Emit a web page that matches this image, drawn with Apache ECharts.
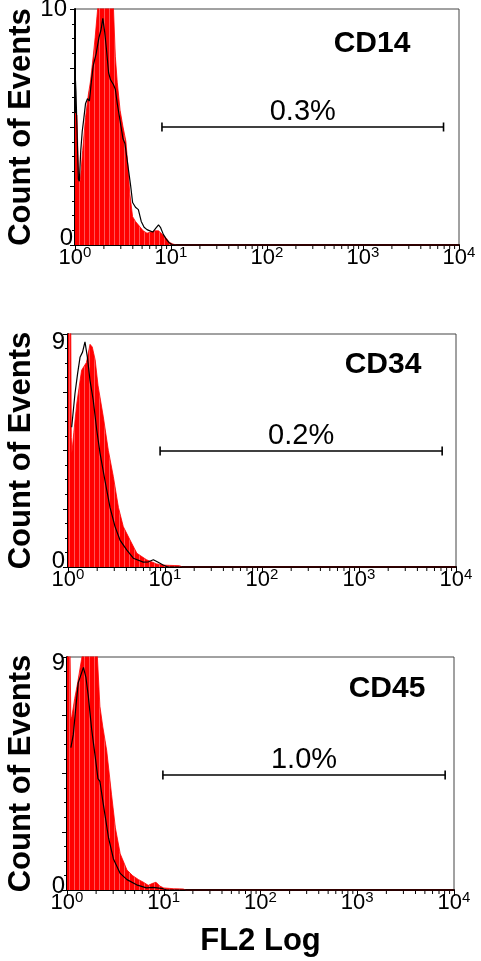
<!DOCTYPE html>
<html><head><meta charset="utf-8">
<script src="https://cdn.jsdelivr.net/npm/echarts@6/dist/echarts.min.js"></script>
<style>html,body{margin:0;padding:0;background:#fff}#c{width:481px;height:961px}</style>
</head><body><div id="c"></div>
<script>
const FONT = '"Liberation Sans", Arial, Helvetica, sans-serif';

// ---- data (x in log10 of FL2 fluorescence, y = count of events) ----
const panelTitles = ['CD14', 'CD34', 'CD45'];
const gatePercents = ['0.3%', '0.2%', '1.0%'];
const yMax = [10, 9, 9];
const xTickExponents = [0, 1, 2, 3, 4];
const minorMultipliers = [2, 3, 4, 5, 6, 7, 8, 9];

// gate marker: [start FL2, end FL2, count level]
const gateCD14 = [8.05, 6900, 5.0];
const gateCD34 = [8.9, 7200, 4.48];
const gateCD45 = [9.8, 8100, 4.44];

// red filled histogram (antibody)  [log10 FL2, count]
const cd14Red = [[0,5.6],[0.02,5.5],[0.03,4.0],[0.04,2.8],[0.055,2.7],[0.08,4.0],[0.11,5.4],[0.14,6.4],[0.16,6.9],[0.19,8.0],[0.21,8.8],[0.24,10.2],[0.28,11.2],[0.33,11.2],[0.38,10.6],[0.40,10.1],[0.42,8.0],[0.44,6.9],[0.47,5.7],[0.50,5.0],[0.53,4.4],[0.55,3.4],[0.57,2.2],[0.60,1.2],[0.63,1.0],[0.67,0.8],[0.71,0.6],[0.75,0.5],[0.79,0.55],[0.83,0.6],[0.87,0.6],[0.91,0.45],[0.95,0.3],[0.98,0.12],[1.02,0.04],[1.06,0],[4,0]];
const cd34Red = [[0,9.6],[0.028,9.6],[0.034,5.0],[0.04,4.4],[0.06,5.2],[0.09,6.3],[0.14,7.6],[0.19,7.9],[0.227,8.6],[0.25,8.5],[0.28,8.0],[0.31,7.0],[0.364,5.8],[0.416,4.5],[0.467,3.5],[0.52,2.3],[0.57,1.56],[0.64,1.04],[0.71,0.53],[0.81,0.28],[0.914,0.12],[1.0,0.07],[1.15,0.05],[1.18,0],[4,0]];
const cd45Red = [[0,9.6],[0.03,9.6],[0.04,6.6],[0.05,6.7],[0.08,7.4],[0.11,8.0],[0.15,8.9],[0.18,9.5],[0.22,10],[0.28,10],[0.31,9.3],[0.34,7.1],[0.37,6.3],[0.41,5.4],[0.46,3.7],[0.50,2.4],[0.55,1.4],[0.62,0.77],[0.68,0.55],[0.74,0.4],[0.79,0.3],[0.84,0.18],[0.88,0.25],[0.92,0.3],[0.96,0.15],[1.0,0.08],[1.1,0.05],[1.2,0.04],[1.23,0],[4,0]];

// black line histogram (isotype control)  [log10 FL2, count]
const cd14Black = [[0,7.4],[0.01,6.5],[0.02,5.0],[0.035,2.8],[0.045,2.7],[0.06,4.0],[0.075,4.8],[0.09,5.3],[0.11,6.0],[0.13,6.2],[0.15,6.1],[0.17,6.9],[0.19,7.6],[0.22,8.1],[0.25,8.8],[0.27,9.1],[0.29,9.6],[0.31,9.0],[0.33,8.2],[0.35,7.3],[0.37,7.0],[0.40,6.8],[0.42,6.6],[0.44,6.0],[0.46,5.5],[0.48,5.0],[0.50,4.5],[0.52,4.3],[0.54,3.7],[0.56,3.1],[0.58,2.5],[0.60,1.8],[0.63,1.6],[0.66,1.5],[0.69,1.0],[0.72,0.75],[0.75,0.65],[0.78,0.6],[0.81,0.55],[0.84,0.7],[0.87,0.85],[0.89,0.75],[0.92,0.45],[0.95,0.25],[0.98,0.1],[1.01,0.02],[1.05,0],[4,0]];
const cd34Black = [[0.038,5.4],[0.072,6.7],[0.10,7.5],[0.124,8.1],[0.15,8.3],[0.175,8.7],[0.2,8.1],[0.227,7.2],[0.26,6.45],[0.296,5.3],[0.33,4.4],[0.38,3.36],[0.433,2.3],[0.485,1.56],[0.536,1.04],[0.605,0.66],[0.673,0.34],[0.776,0.19],[0.83,0.2],[0.88,0.28],[0.93,0.18],[0.98,0.08],[1.03,0],[4,0]];
const cd45Black = [[0.04,5.5],[0.065,6.0],[0.09,7.0],[0.116,8.0],[0.17,8.6],[0.196,8.2],[0.22,7.5],[0.255,6.2],[0.29,5.2],[0.32,4.3],[0.34,4.2],[0.376,3.3],[0.43,2.0],[0.48,1.2],[0.55,0.64],[0.62,0.4],[0.72,0.2],[0.82,0.08],[0.89,0.1],[0.99,0.05],[1.03,0],[4,0]];

const redSets = [cd14Red, cd34Red, cd45Red];
const blackSets = [cd14Black, cd34Black, cd45Black];
const gates = [gateCD14, gateCD34, gateCD45];

// ---- layout ----
const grids = [
  {left: 75, top: 9, width: 384, height: 236},
  {left: 68, top: 334, width: 388, height: 233},
  {left: 67, top: 657, width: 387, height: 233}
];
const yNameGap = [38, 31, 30];
const yLabelMargin = [2, 3, 2];
const topLabPad = [[0, 6, 0, 0], [16, 0, 0, 0], [12, 0, 0, 0]];
const botLabPad = [[0, 0, 14, 0], [0, 0, 12, 0], [0, 0, 8, 0]];
const titlePos = [[372, 43.5], [383, 365], [387, 688.5]];

const toRaw = arr => arr.map(p => [Math.pow(10, p[0]), p[1]]);

const minorTicks = [];
xTickExponents.slice(0, -1).forEach(e => minorMultipliers.forEach(m => minorTicks.push([m * Math.pow(10, e)])));

// stripe pattern for the red fill
const pc = document.createElement('canvas');
pc.width = 5; pc.height = 4;
const g = pc.getContext('2d');
g.fillStyle = '#ff0000'; g.fillRect(0, 0, 5, 4);
g.fillStyle = '#ff5454'; g.fillRect(4, 0, 1, 4);

const chart = echarts.init(document.getElementById('c'), null, {renderer: 'canvas'});

const xAxes = [], yAxes = [], series = [], graphics = [];
grids.forEach((gr, i) => {
  xAxes.push({
    type: 'log', logBase: 10, min: 1, max: 10000, gridIndex: i,
    axisLine: {show: true, lineStyle: {color: '#000', width: 2}},
    axisTick: {show: true, length: 6, lineStyle: {color: '#000', width: 1}},
    splitLine: {show: false},
    axisLabel: {
      margin: 0, color: '#000', fontFamily: FONT,
      formatter: v => '{a|10}{b|' + Math.round(Math.log10(v)) + '}',
      rich: {
        a: {fontSize: 22, fontFamily: FONT, color: '#000', lineHeight: 25},
        b: {fontSize: 15, fontFamily: FONT, color: '#000', verticalAlign: 'top', lineHeight: 25, padding: [0, 0, 7, 0]}
      }
    },
    name: i === 2 ? 'FL2 Log' : '', nameLocation: 'middle', nameGap: 36, nameMoveOverlap: false,
    nameTextStyle: {fontSize: 31, fontWeight: 'bold', fontFamily: FONT, color: '#000'}
  });
  const ym = yMax[i];
  yAxes.push({
    type: 'value', min: 0, max: ym, interval: ym / 4, gridIndex: i,
    axisLine: {show: true, lineStyle: {color: '#000', width: 2}},
    axisTick: {show: true, length: 5, lineStyle: {color: '#000'}},
    minorTick: {show: true, splitNumber: 4, length: 3, lineStyle: {color: '#000'}},
    splitLine: {show: false},
    axisLabel: {
      margin: yLabelMargin[i], color: '#000',
      formatter: v => v === ym ? '{t|' + v + '}' : (v === 0 ? '{z|0}' : ''),
      rich: {
        t: {fontSize: 24, fontFamily: FONT, color: '#000', padding: topLabPad[i]},
        z: {fontSize: 24, fontFamily: FONT, color: '#000', padding: botLabPad[i]}
      }
    },
    name: 'Count of Events', nameLocation: 'middle', nameGap: yNameGap[i], nameRotate: 90, nameMoveOverlap: false,
    nameTextStyle: {fontSize: 31, fontWeight: 'bold', fontFamily: FONT, color: '#000'}
  });
  series.push({
    type: 'line', xAxisIndex: i, yAxisIndex: i, data: toRaw(redSets[i]),
    symbol: 'none', clip: true, z: 2,
    lineStyle: {color: '#ff0000', width: 0.8},
    areaStyle: {color: {image: pc, repeat: 'repeat'}, opacity: 1},
    silent: true, animation: false
  });
  series.push({
    type: 'line', xAxisIndex: i, yAxisIndex: i, data: toRaw(blackSets[i]),
    symbol: 'none', clip: true, z: 3,
    lineStyle: {color: '#000', width: 1.2},
    silent: true, animation: false
  });
  series.push({
    type: 'custom', xAxisIndex: i, yAxisIndex: i, data: minorTicks, silent: true, animation: false, z: 4,
    renderItem: (params, api) => {
      const p = api.coord([api.value(0), 0]);
      return {type: 'line', shape: {x1: p[0], y1: p[1] + 1, x2: p[0], y2: p[1] + 4}, style: {stroke: '#000', lineWidth: 1}};
    }
  });
  series.push({
    type: 'custom', xAxisIndex: i, yAxisIndex: i, data: [gates[i]], silent: true, animation: false, z: 5,
    renderItem: (params, api) => {
      const p1 = api.coord([api.value(0), api.value(2)]);
      const p2 = api.coord([api.value(1), api.value(2)]);
      const st = {stroke: '#000', lineWidth: 1.6};
      return {type: 'group', children: [
        {type: 'line', shape: {x1: p1[0], y1: p1[1], x2: p2[0], y2: p2[1]}, style: st},
        {type: 'line', shape: {x1: p1[0], y1: p1[1] - 4.5, x2: p1[0], y2: p1[1] + 4.5}, style: st},
        {type: 'line', shape: {x1: p2[0], y1: p2[1] - 4.5, x2: p2[0], y2: p2[1] + 4.5}, style: st},
        {type: 'text', style: {text: gatePercents[i], x: (p1[0] + p2[0]) / 2, y: p1[1] - 1,
          align: 'center', verticalAlign: 'bottom', textAlign: 'center', textVerticalAlign: 'bottom',
          font: '29px ' + FONT, fill: '#000'}}
      ]};
    }
  });
  graphics.push({
    type: 'text', x: titlePos[i][0], y: titlePos[i][1], z: 10,
    style: {text: panelTitles[i], font: 'bold 30px ' + FONT, fill: '#000',
      align: 'center', verticalAlign: 'middle', textAlign: 'center', textVerticalAlign: 'middle'}
  });
});

chart.setOption({
  animation: false,
  backgroundColor: '#fff',
  grid: grids.map(gr => Object.assign({show: true, borderColor: '#444', borderWidth: 1, backgroundColor: 'transparent',
    containLabel: false, outerBoundsMode: 'none'}, gr)),
  xAxis: xAxes,
  yAxis: yAxes,
  series: series,
  graphic: graphics
});
</script>
</body></html>
